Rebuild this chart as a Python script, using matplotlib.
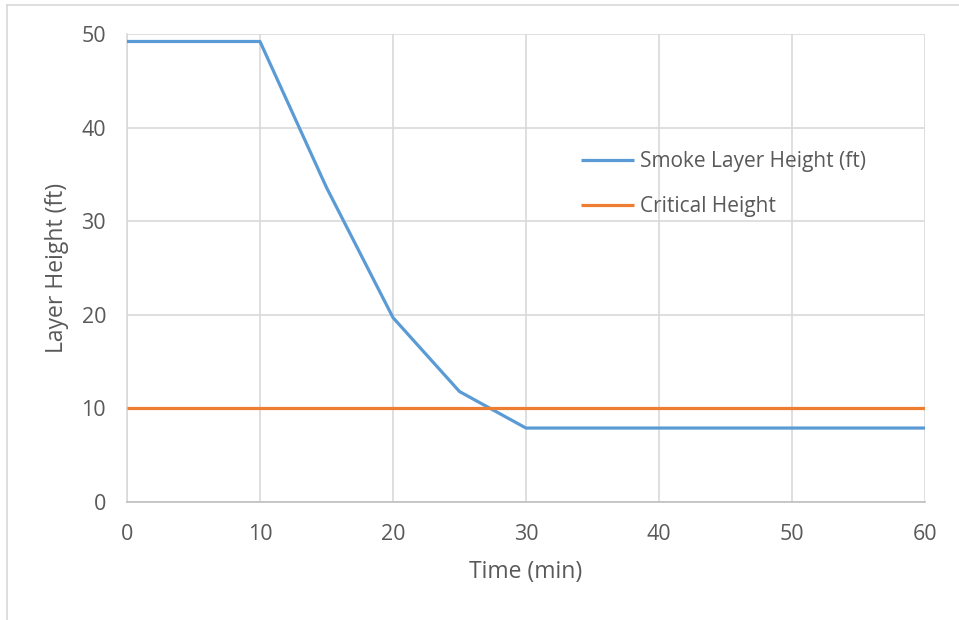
import matplotlib
matplotlib.use("Agg")
import matplotlib.pyplot as plt
from matplotlib.lines import Line2D

plt.rcParams['font.family'] = ['Open Sans', 'DejaVu Sans']

# data
time_min = [0, 5, 10, 15, 20, 25, 30, 35, 40, 45, 50, 55, 60]
smoke_height = [49.2, 49.2, 49.2, 33.6, 19.7, 11.8, 7.9, 7.9, 7.9, 7.9, 7.9, 7.9, 7.9]
critical_height = [10] * len(time_min)
xticks = [0, 10, 20, 30, 40, 50, 60]
yticks = [0, 10, 20, 30, 40, 50]

txt = '#595959'
grid = '#D9D9D9'

fig = plt.figure(figsize=(9.59, 6.2), dpi=100)
ax = fig.add_axes([127/959, 118/620, 798/959, 468/620])

ax.plot(time_min, smoke_height, color='#5B9BD5', lw=2.3, label='Smoke Layer Height (ft)',
        solid_capstyle='butt', zorder=3)
ax.plot(time_min, critical_height, color='#ED7D31', lw=2.3, label='Critical Height',
        solid_capstyle='butt', zorder=3)

ax.set_xlim(0, 60)
ax.set_ylim(0, 50)
ax.set_xticks(xticks)
ax.set_yticks(yticks)
ax.grid(True, color=grid, lw=1.2)
ax.set_axisbelow(True)
for s in ['top', 'right']:
    ax.spines[s].set_visible(False)
ax.spines['left'].set_color(grid)
ax.spines['left'].set_linewidth(1.2)
ax.spines['bottom'].set_color('#BFBFBF')
ax.spines['bottom'].set_linewidth(1.2)
ax.tick_params(length=0, labelsize=15.5, labelcolor=txt)
ax.tick_params(axis='x', pad=16)
ax.tick_params(axis='y', pad=15)

ax.set_xlabel('Time (min)', fontsize=16.5, color=txt, labelpad=11)
ax.set_ylabel('Layer Height (ft)', fontsize=16.5, color=txt, labelpad=9)

leg = ax.legend(loc='center left', bbox_to_anchor=(0.546, 0.679), frameon=False,
                fontsize=15, handlelength=2.5, handletextpad=0.3, labelspacing=1.15)
for t in leg.get_texts():
    t.set_color(txt)

# chart border (left and top edges visible)
fig.add_artist(Line2D([7/959, 7/959], [0, 1 - 5/620], transform=fig.transFigure, color=grid, lw=1.2))
fig.add_artist(Line2D([7/959, 1], [1 - 5/620, 1 - 5/620], transform=fig.transFigure, color=grid, lw=1.2))

fig.savefig('out.png', dpi=100)
